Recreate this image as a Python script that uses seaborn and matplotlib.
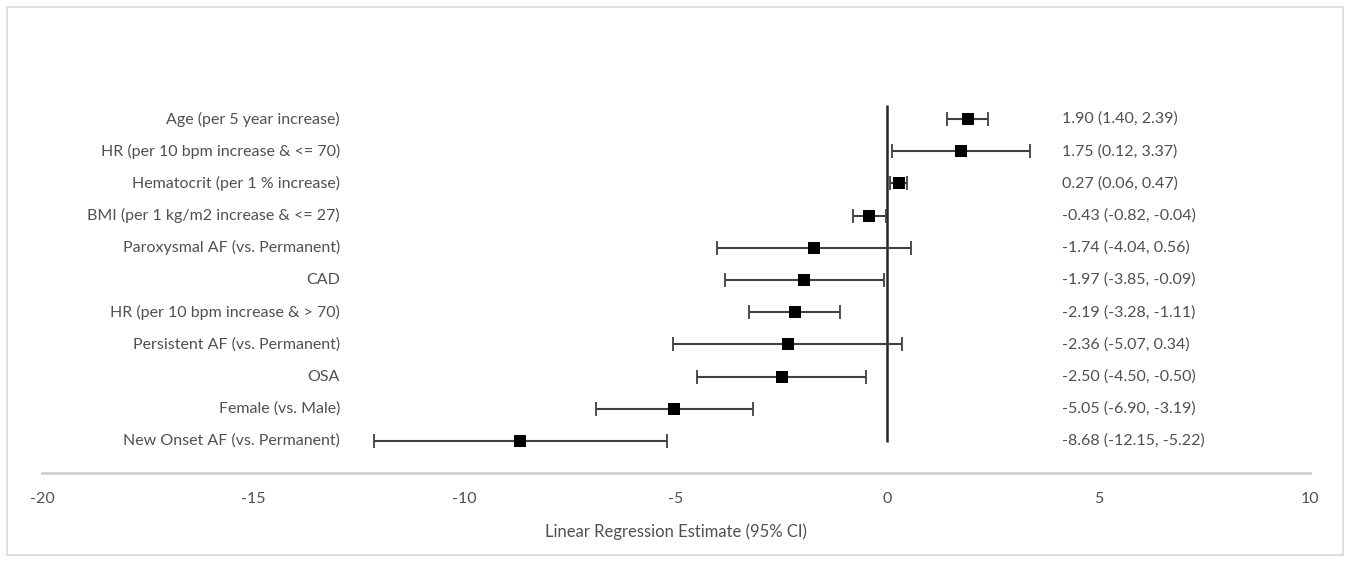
import matplotlib
matplotlib.use("Agg")
import matplotlib.pyplot as plt
import seaborn as sns
import pandas as pd
from matplotlib.patches import Rectangle

labels = ["Age (per 5 year increase)", "HR (per 10 bpm increase & <= 70)",
          "Hematocrit (per 1 % increase)", "BMI (per 1 kg/m2 increase & <= 27)",
          "Paroxysmal AF (vs. Permanent)", "CAD", "HR (per 10 bpm increase & > 70)",
          "Persistent AF (vs. Permanent)", "OSA", "Female (vs. Male)",
          "New Onset AF (vs. Permanent)"]
estimate = [1.90, 1.75, 0.27, -0.43, -1.74, -1.97, -2.19, -2.36, -2.50, -5.05, -8.68]
lower = [1.40, 0.12, 0.06, -0.82, -4.04, -3.85, -3.28, -5.07, -4.50, -6.90, -12.15]
upper = [2.39, 3.37, 0.47, -0.04, 0.56, -0.09, -1.11, 0.34, -0.50, -3.19, -5.22]
xticks = [-20, -15, -10, -5, 0, 5, 10]

df = pd.DataFrame({"label": labels, "est": estimate, "lo": lower, "hi": upper})
df["row"] = range(len(df))

sns.set_theme(style="white")
plt.rcParams["font.family"] = ["Lato", "DejaVu Sans"]
txt_color = "#505050"

fig = plt.figure(figsize=(13.51, 5.64), dpi=100)
ax = fig.add_axes([42 / 1351, 1 - 473 / 564, (1310 - 42) / 1351, (473 - 60) / 564])

n = len(df)
ax.vlines(0, -0.45, n - 1 + 0.03, color="#262626", lw=1.8, zorder=1)
ax.errorbar(df["est"], df["row"], xerr=[df["est"] - df["lo"], df["hi"] - df["est"]],
            fmt="none", ecolor="#404040", elinewidth=1.5, capsize=5, capthick=1.3, zorder=2)
sns.scatterplot(data=df, x="est", y="row", marker="s", s=85, color="black",
                edgecolor="black", linewidth=0, ax=ax, zorder=3, legend=False)

for _, r in df.iterrows():
    ax.text(-12.95, r["row"], r["label"], ha="right", va="center",
            fontsize=11.5, color=txt_color)
    ax.text(4.13, r["row"], f"{r['est']:.2f} ({r['lo']:.2f}, {r['hi']:.2f})",
            ha="left", va="center", fontsize=11.5, color=txt_color)

ax.set_xlim(-20, 10)
ax.set_ylim(10.994, -1.832)
ax.set_xticks(xticks)
ax.set_xticklabels([str(t) for t in xticks], fontsize=11.5, color=txt_color)
ax.tick_params(axis="x", length=0, pad=14)
ax.set_yticks([])
for s in ["top", "left", "right"]:
    ax.spines[s].set_visible(False)
ax.spines["bottom"].set_color("#d0d0d0")
ax.spines["bottom"].set_linewidth(2)
ax.set_xlabel("Linear Regression Estimate (95% CI)", fontsize=12, color=txt_color, labelpad=12)
ax.set_ylabel("")

fig.patches.append(Rectangle((7 / 1351, 9 / 564), 1336 / 1351, 548 / 564,
                             transform=fig.transFigure, fill=False,
                             edgecolor="#d9d9d9", lw=1.2))

fig.savefig("out.png", dpi=100)
